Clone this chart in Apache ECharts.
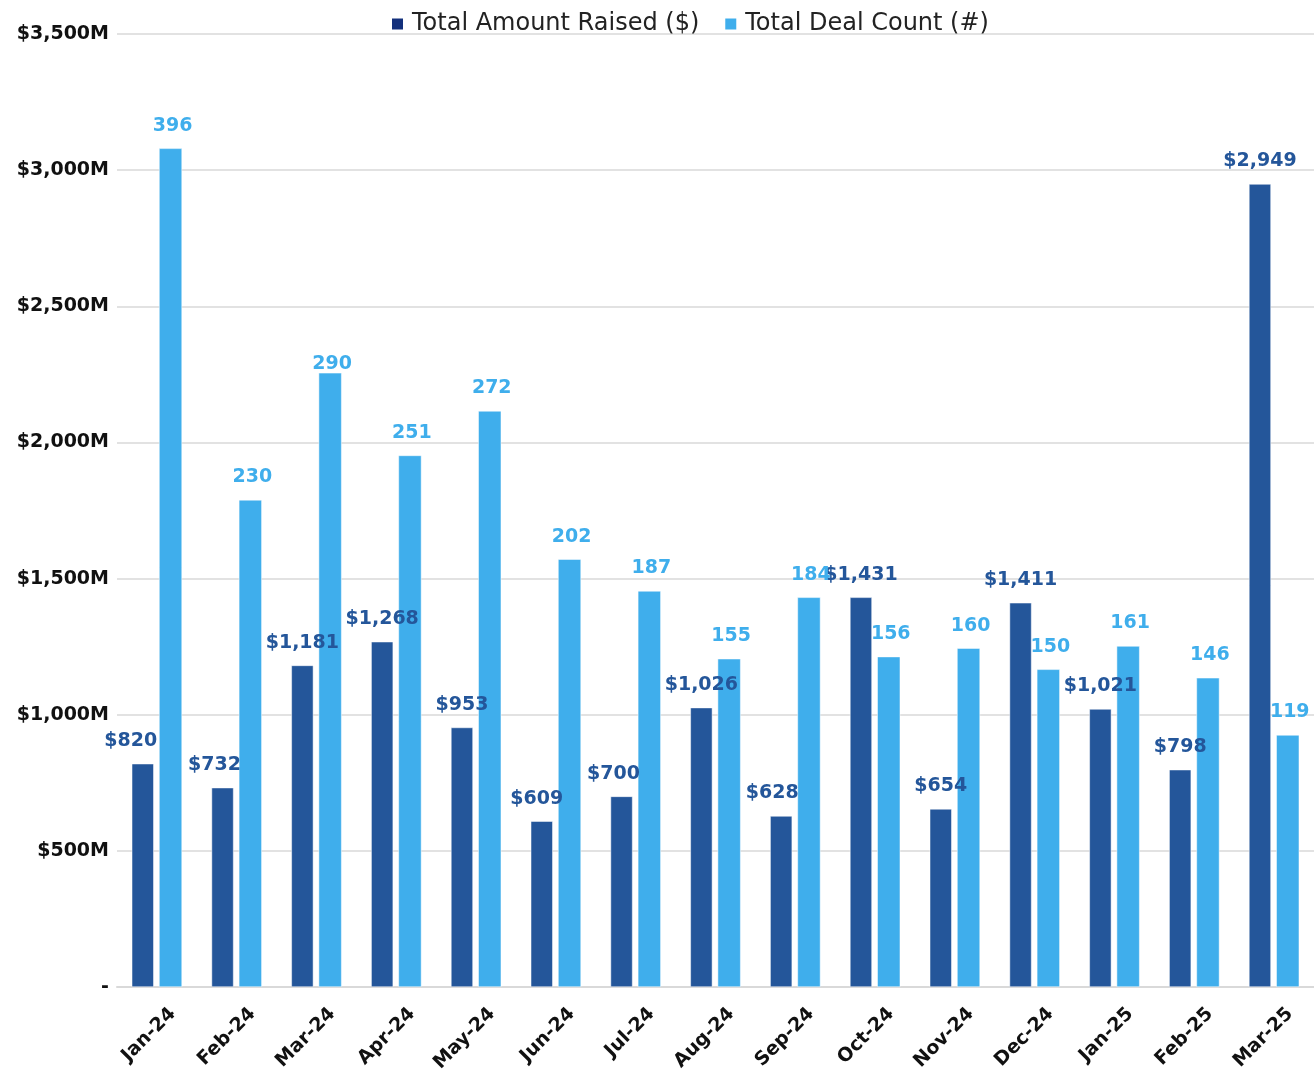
<!DOCTYPE html>
<html><head><meta charset="utf-8">
<script src="https://cdn.jsdelivr.net/npm/echarts@6/dist/echarts.min.js"></script>
<style>html,body{margin:0;padding:0;background:#fff}#c{width:1314px;height:1069px}</style>
</head><body><div id="c"></div>
<script>
const months = ['Jan-24','Feb-24','Mar-24','Apr-24','May-24','Jun-24','Jul-24','Aug-24','Sep-24','Oct-24','Nov-24','Dec-24','Jan-25','Feb-25','Mar-25'];
const amountRaised = [820,732,1181,1268,953,609,700,1026,628,1431,654,1411,1021,798,2949];
const dealCount = [396,230,290,251,272,202,187,155,184,156,160,150,161,146,119];
const yTicks = [0,500,1000,1500,2000,2500,3000,3500];
const amountLabelShift = [-12,-8,0,0,0,-5,-8,0,-9,0,0,0,0,0,0];
const countLabelShiftY = [0,0,14,0,0,0,0,0,0,0,0,0,0,0,0];

const DARK = '#24569A', LIGHT = '#3FAEEC', FONT = 'DejaVu Sans';
const chart = echarts.init(document.getElementById('c'));
chart.setOption({
  animation:false,
  textStyle:{fontFamily:FONT},
  legend:{top:12,left:390,padding:0,itemWidth:13,itemHeight:13,itemGap:24,icon:'rect',
    textStyle:{fontFamily:FONT,fontSize:24,color:'#222',padding:[0,0,0,3]},
    data:[{name:'Total Amount Raised ($)',itemStyle:{color:'#13307C'}},{name:'Total Deal Count (#)'}]},
  grid:{left:117,right:0,top:34,bottom:82,containLabel:false,outerBoundsMode:'none'},
  xAxis:{type:'category',data:months,
    axisLine:{lineStyle:{color:'#D9D9D9',width:2}},axisTick:{show:false},
    axisLabel:{rotate:45,interval:0,margin:8,verticalAlign:'top',padding:[13,0,0,0],
      fontFamily:FONT,fontWeight:'bold',fontSize:19,color:'#111'}},
  yAxis:[{type:'value',min:0,max:3500,interval:500,
    axisLine:{show:false},axisTick:{show:false},
    splitLine:{lineStyle:{color:'#D9D9D9',width:1.5}},
    axisLabel:{margin:8,fontFamily:FONT,fontWeight:'bold',fontSize:19,color:'#111',
      formatter:v=>yTicks.includes(v)?(v===0?'-':'$'+v.toLocaleString('en-US')+'M'):''}},
    {type:'value',min:0,max:450,show:false,splitLine:{show:false}}],
  series:[
    {name:'Total Amount Raised ($)',type:'bar',yAxisIndex:0,barWidth:22,barGap:'24%',
      itemStyle:{color:DARK,borderColor:'#fff',borderWidth:0.5},
      data:amountRaised.map((v,i)=>({value:v,label:{offset:[amountLabelShift[i],0]}})),
      label:{show:true,position:'top',distance:13,fontFamily:FONT,fontWeight:'bold',fontSize:19,color:DARK,
        formatter:p=>'$'+p.value.toLocaleString('en-US')}},
    {name:'Total Deal Count (#)',type:'bar',yAxisIndex:1,barWidth:23,
      itemStyle:{color:LIGHT,borderColor:'#fff',borderWidth:0.5},
      data:dealCount.map((v,i)=>({value:v,label:{offset:[2,countLabelShiftY[i]]}})),
      label:{show:true,position:'top',distance:13,fontFamily:FONT,fontWeight:'bold',fontSize:19,color:LIGHT}}
  ]
});
</script></body></html>
